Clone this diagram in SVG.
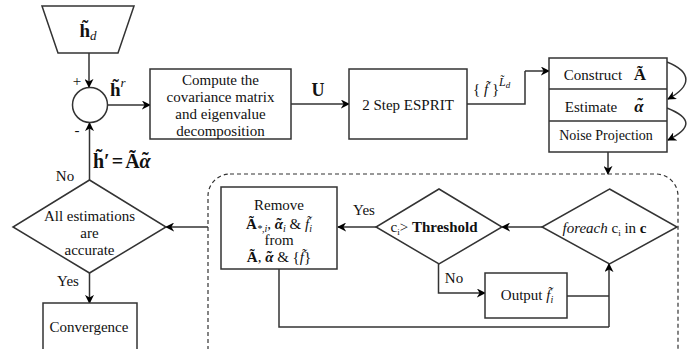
<svg xmlns="http://www.w3.org/2000/svg" width="697" height="349" viewBox="0 0 697 349">
<defs>
<marker id="ah" viewBox="0 0 10 10" refX="9" refY="5" markerWidth="9" markerHeight="9" markerUnits="userSpaceOnUse" orient="auto">
<path d="M0,0 L10,5 L0,10 L3,5 Z" fill="#000"/>
</marker>
<style>
.s{fill:#fff;stroke:#333;stroke-width:1.5}
.c{fill:none;stroke:#333;stroke-width:1.5}
.a{fill:none;stroke:#333;stroke-width:1.5;marker-end:url(#ah)}
.m{text-anchor:middle}
.b{font-weight:bold}
.i{font-style:italic}
</style>
</defs>
<rect width="697" height="349" fill="#fff"/>

<g id="connectors">
<path class="a" d="M89,53 V87"/>
<path class="a" d="M107.5,105 H150"/>
<path class="a" d="M291,104 H349"/>
<path class="c" d="M467,104 H525 V71"/>
<path class="a" d="M525,71 H549"/>
<path class="a" d="M667,62 C692,72 692,86 668,99"/>
<path class="a" d="M667,108 C692,118 692,128 668,140"/>
<path class="a" d="M608,152 V174"/>
<path class="a" d="M542,227 H502"/>
<path class="a" d="M376,227 H338"/>
<path class="c" d="M279,269 V327 H609"/>
<path class="a" d="M609,327 V264"/>
<path class="a" d="M438.5,264 V293 H485"/>
<path class="c" d="M567,296 H609"/>
<path class="a" d="M208,227 H166"/>
<path class="a" d="M89.5,273 V303"/>
<path class="a" d="M89.5,180 V123"/>
</g>

<g font-family="'Liberation Serif', 'Times New Roman', serif" font-size="15" fill="#111">
<g id="input">
<polygon class="s" points="42,6 134,6 118,53 58,53"/>
<text x="88" y="37" class="m b" font-size="19">h&#771;<tspan font-weight="normal" class="i" font-size="13" dy="3">d</tspan></text>
</g>

<g id="sum">
<circle class="s" cx="90" cy="105" r="17.5"/>
<text x="77" y="86" class="m">+</text>
<text x="77" y="135" class="m">-</text>
<text x="110" y="96" class="b" font-size="19">h&#771;<tspan font-weight="normal" class="i" font-size="13" dy="-9">r</tspan></text>
</g>

<g id="compute">
<rect class="s" x="150" y="69" width="141" height="70"/>
<text x="220.5" y="85" class="m">Compute the</text>
<text x="220.5" y="102" class="m">covariance matrix</text>
<text x="220.5" y="119" class="m">and eigenvalue</text>
<text x="220.5" y="136" class="m">decomposition</text>
<text x="318" y="96" class="m b" font-size="18">U</text>
</g>

<g id="esprit">
<rect class="s" x="349" y="69" width="118" height="70"/>
<text x="408" y="110" class="m">2 Step ESPRIT</text>
<text x="473" y="94">{ <tspan class="i">f&#771;</tspan> }<tspan class="i" font-size="12" dy="-8">L&#771;</tspan><tspan class="i" font-size="9" dy="2">d</tspan></text>
</g>

<g id="stack">
<rect class="s" x="549" y="58" width="118" height="94"/>
<path class="c" d="M549,89 H667 M549,121 H667"/>
<text x="593" y="80" class="m">Construct</text>
<text x="640" y="80" class="m b" font-size="17">&#195;</text>
<text x="591" y="112" class="m">Estimate</text>
<text x="639" y="112" class="m b i" font-size="17">&#945;</text>
<text x="640" y="110" class="m b" font-size="17">&#732;</text>
<text x="606" y="140" class="m" font-size="14">Noise Projection</text>
</g>

<g id="loop">
<rect x="208" y="174" width="470" height="200" rx="22" ry="22" fill="none" stroke="#333" stroke-width="1.2" stroke-dasharray="4,3"/>
</g>

<g id="foreach">
<polygon class="s" points="609.5,189 677,227 609.5,264 542,227"/>
<text x="604.5" y="233" class="m"><tspan class="i">foreach</tspan> c<tspan font-size="9" dy="3">i</tspan><tspan dy="-3"> in </tspan><tspan class="b">c</tspan></text>
</g>

<g id="threshold">
<polygon class="s" points="439,189 502,227 439,264 376,227"/>
<text x="434" y="232" class="m">c<tspan font-size="9" dy="3">i</tspan><tspan dy="-3">&gt; </tspan><tspan class="b">Threshold</tspan></text>
<text x="364" y="215" class="m">Yes</text>
<text x="454" y="283" class="m">No</text>
</g>

<g id="output">
<rect class="s" x="485" y="273" width="82" height="45"/>
<text x="527" y="300" class="m">Output <tspan class="i">f&#771;</tspan><tspan class="i" font-size="10" dy="3">i</tspan></text>
</g>

<g id="remove">
<rect class="s" x="221" y="187" width="116" height="82"/>
<text x="279" y="210" class="m">Remove</text>
<text x="279" y="229" class="m"><tspan class="b">&#195;</tspan><tspan class="i" font-size="10" dy="3">*,i</tspan><tspan dy="-3">,  </tspan><tspan class="b i">&#945;</tspan><tspan class="b" dx="-6.6" dy="-1">&#732;</tspan><tspan class="i" font-size="10" dx="1.6" dy="4">i</tspan><tspan dy="-3"> &amp; </tspan><tspan class="i">f&#771;</tspan><tspan class="i" font-size="10" dy="3">i</tspan></text>
<text x="279" y="245" class="m">from</text>
<text x="279" y="262" class="m"><tspan class="b">&#195;</tspan>, <tspan class="b i">&#945;</tspan><tspan class="b" dx="-6.6" dy="-1">&#732;</tspan><tspan dx="1.6" dy="1"> &amp; {</tspan><tspan class="i">f&#771;</tspan>}</text>
</g>

<g id="check">
<polygon class="s" points="89.5,180 166,227 89.5,273 13,227"/>
<text x="89.5" y="221" class="m">All estimations</text>
<text x="89.5" y="238" class="m">are</text>
<text x="89.5" y="255" class="m">accurate</text>
<text x="65" y="181" class="m">No</text>
<text x="68" y="286" class="m">Yes</text>
<text x="93" y="168" class="b" font-size="20">h&#771;′<tspan dx="2">=</tspan><tspan dx="2">&#195;</tspan><tspan class="i">&#945;</tspan><tspan dx="-8.8" dy="-1">&#732;</tspan></text>
</g>

<g id="convergence">
<rect class="s" x="43" y="303" width="94" height="60"/>
<text x="89" y="332" class="m">Convergence</text>
</g>
</g>
</svg>
